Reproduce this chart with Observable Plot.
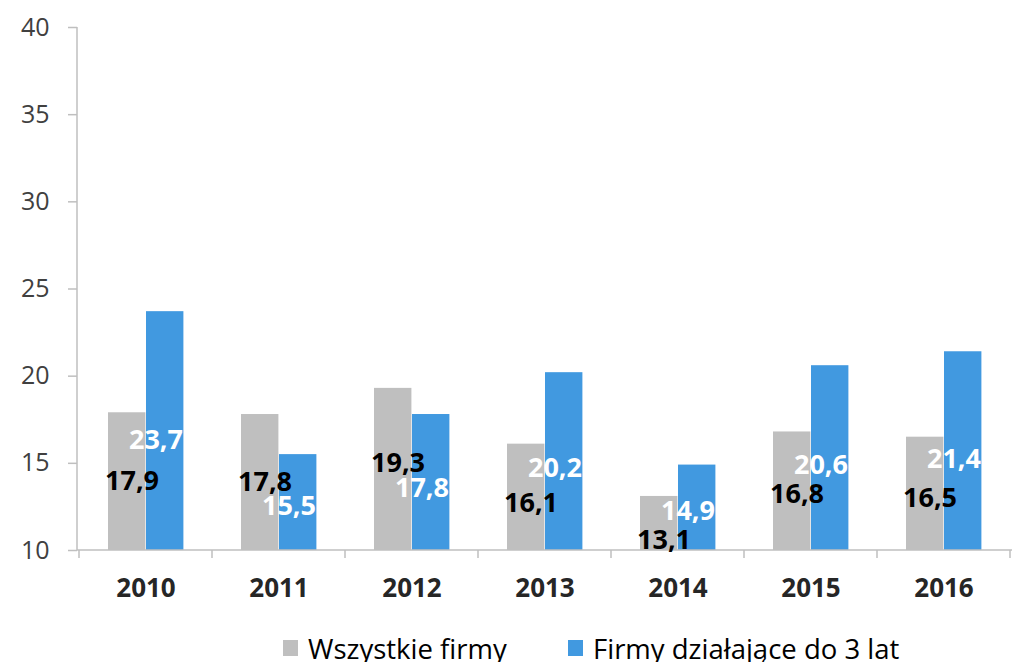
<!DOCTYPE html>
<html><head><meta charset="utf-8">
<script src="https://cdn.jsdelivr.net/npm/d3@7"></script>
<script src="https://cdn.jsdelivr.net/npm/@observablehq/plot@0.6"></script>
<style>
body{margin:0;background:#fff;font-family:"Open Sans",sans-serif;overflow:hidden}
#legend{display:flex;margin-left:283px;margin-top:3px;font-size:27.5px;line-height:27px;color:#000;white-space:nowrap}
.item{display:flex;align-items:flex-start}
.item.first{width:285px}
.sw{width:15px;height:16px;margin-top:5px;margin-right:10px}
</style></head><body>
<div id="chart"></div>
<div id="legend"></div>
<script>
const years = ["2010", "2011", "2012", "2013", "2014", "2015", "2016"];
const seriesNames = ["Wszystkie firmy", "Firmy działające do 3 lat"];
const allFirms = [17.9, 17.8, 19.3, 16.1, 13.1, 16.8, 16.5];
const youngFirms = [23.7, 15.5, 17.8, 20.2, 14.9, 20.6, 21.4];
const yTicks = [10, 15, 20, 25, 30, 35, 40];
const colors = ["#bfbfbf", "#4199e0"];

const grayRows = years.map((year, i) => ({year, series: seriesNames[0], value: allFirms[i]}));
const blueRows = years.map((year, i) => ({year, series: seriesNames[1], value: youngFirms[i]}));
const fmt = v => v.toFixed(1).replace(".", ",");
const FONT = "'Open Sans', sans-serif";
const BASE = 10;
// label anchors inside the bars (approximating the reference's label placement)
const grayLabelY = d => BASE - 1.61 + 0.708 * (d.value - BASE);
const blueLabelY = d => BASE + 0.46 * (d.value - BASE);

function axisLines(index, scales, values, dims) {
  const x = scales.x, y = scales.y;
  const g = d3.create("svg:g").attr("stroke", "#bfbfbf").attr("stroke-width", 1.5).attr("fill", "none");
  const left = dims.marginLeft, right = dims.width - dims.marginRight;
  const y0 = y(BASE), yTop = y(40);
  g.append("line").attr("x1", left).attr("x2", left).attr("y1", yTop).attr("y2", y0);
  g.append("line").attr("x1", left).attr("x2", right).attr("y1", y0).attr("y2", y0);
  const bounds = years.map(yr => x(yr));
  bounds.push(x(years[years.length - 1]) + x.bandwidth());
  for (const bx of bounds) {
    g.append("line").attr("x1", bx).attr("x2", bx).attr("y1", y0).attr("y2", y0 + 8);
  }
  return g.node();
}

const chart = Plot.plot({
  width: 1016,
  height: 632,
  marginLeft: 77,
  marginRight: 4,
  marginTop: 27,
  marginBottom: 82,
  style: {fontFamily: FONT, background: "#fff"},
  x: {domain: years, padding: 0, label: null},
  y: {domain: [10, 40], label: null},
  marks: [
    Plot.barY(grayRows, {x: "year", y1: () => BASE, y2: "value", fill: colors[0], insetLeft: 29, insetRight: 66.6}),
    Plot.barY(blueRows, {x: "year", y1: () => BASE, y2: "value", fill: colors[1], insetLeft: 67, insetRight: 28.6}),
    axisLines,
    Plot.axisY({ticks: yTicks, tickSize: 9, tickPadding: 19, fontSize: 25, stroke: "#bfbfbf", strokeWidth: 1.5, fill: "#404040", label: null}),
    Plot.axisX({tickSize: 0, tickPadding: 28.5, fontSize: 26, fontWeight: "bold", fill: "#262626", label: null}),
    Plot.text(grayRows, {x: "year", y: grayLabelY, text: d => fmt(d.value), dx: -14, fontSize: 27, fontWeight: "bold", fill: "#000", fontFamily: FONT}),
    Plot.text(blueRows, {x: "year", y: blueLabelY, text: d => fmt(d.value), dx: 37, textAnchor: "end", fontSize: 27, fontWeight: "bold", fill: "#fff", fontFamily: FONT})
  ]
});
document.getElementById("chart").appendChild(chart);

const legend = document.getElementById("legend");
seriesNames.forEach((name, i) => {
  const item = document.createElement("div");
  item.className = "item" + (i === 0 ? " first" : "");
  const sw = document.createElement("div");
  sw.className = "sw";
  sw.style.background = colors[i];
  const label = document.createElement("span");
  label.textContent = name;
  item.appendChild(sw);
  item.appendChild(label);
  legend.appendChild(item);
});
</script>
</body></html>
